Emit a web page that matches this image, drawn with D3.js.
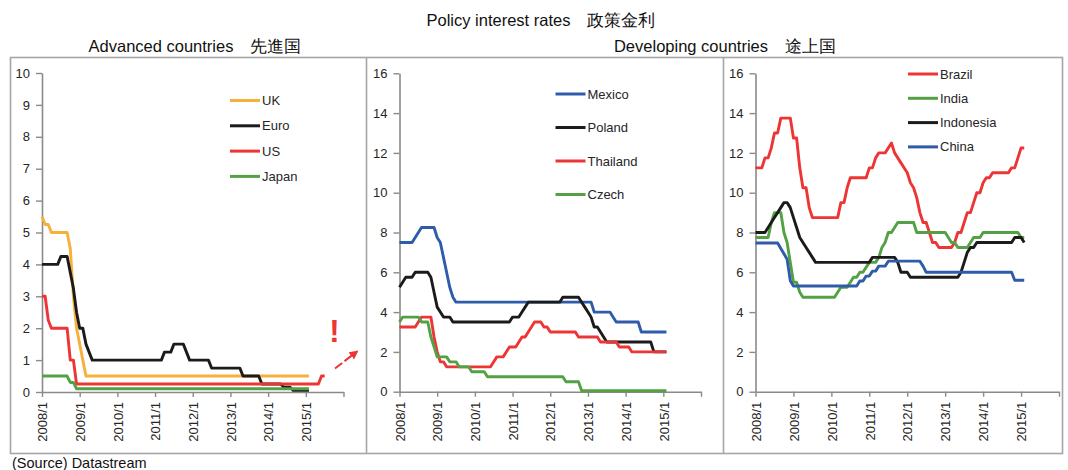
<!DOCTYPE html>
<html><head><meta charset="utf-8">
<script src="https://cdn.jsdelivr.net/npm/d3@7"></script>
<style>
body{margin:0;background:#fff;}
text{font-family:"Liberation Sans",Arial,sans-serif;}
</style></head>
<body>
<svg id="c" width="1068" height="470"></svg>
<script>
// ---------------- DATA (monthly, index 0 = 2008/1) ----------------
const tickLabels = ["2008/1","2009/1","2010/1","2011/1","2012/1","2013/1","2014/1","2015/1",""];

const ukRate = [5.5,5.25,5.25,5.0,5.0,5.0,5.0,5.0,5.0,4.5,3.0,2.0,
  1.5,1.0,0.5,0.5,0.5,0.5,0.5,0.5,0.5,0.5,0.5,0.5,
  0.5,0.5,0.5,0.5,0.5,0.5,0.5,0.5,0.5,0.5,0.5,0.5,
  0.5,0.5,0.5,0.5,0.5,0.5,0.5,0.5,0.5,0.5,0.5,0.5,
  0.5,0.5,0.5,0.5,0.5,0.5,0.5,0.5,0.5,0.5,0.5,0.5,
  0.5,0.5,0.5,0.5,0.5,0.5,0.5,0.5,0.5,0.5,0.5,0.5,
  0.5,0.5,0.5,0.5,0.5,0.5,0.5,0.5,0.5,0.5,0.5,0.5,
  0.5,0.5];
const euroRate = [4.0,4.0,4.0,4.0,4.0,4.0,4.25,4.25,4.25,3.75,3.25,2.5,
  2.0,2.0,1.5,1.25,1.0,1.0,1.0,1.0,1.0,1.0,1.0,1.0,
  1.0,1.0,1.0,1.0,1.0,1.0,1.0,1.0,1.0,1.0,1.0,1.0,
  1.0,1.0,1.0,1.25,1.25,1.25,1.5,1.5,1.5,1.5,1.25,1.0,
  1.0,1.0,1.0,1.0,1.0,1.0,0.75,0.75,0.75,0.75,0.75,0.75,
  0.75,0.75,0.75,0.75,0.5,0.5,0.5,0.5,0.5,0.5,0.25,0.25,
  0.25,0.25,0.25,0.25,0.25,0.15,0.15,0.15,0.05,0.05,0.05,0.05,
  0.05,0.05];
const usRate = [3.0,3.0,2.25,2.0,2.0,2.0,2.0,2.0,2.0,1.0,1.0,0.25,
  0.25,0.25,0.25,0.25,0.25,0.25,0.25,0.25,0.25,0.25,0.25,0.25,
  0.25,0.25,0.25,0.25,0.25,0.25,0.25,0.25,0.25,0.25,0.25,0.25,
  0.25,0.25,0.25,0.25,0.25,0.25,0.25,0.25,0.25,0.25,0.25,0.25,
  0.25,0.25,0.25,0.25,0.25,0.25,0.25,0.25,0.25,0.25,0.25,0.25,
  0.25,0.25,0.25,0.25,0.25,0.25,0.25,0.25,0.25,0.25,0.25,0.25,
  0.25,0.25,0.25,0.25,0.25,0.25,0.25,0.25,0.25,0.25,0.25,0.25,
  0.25,0.25,0.25,0.25,0.25,0.5,0.5];
const japanRate = [0.5,0.5,0.5,0.5,0.5,0.5,0.5,0.5,0.5,0.3,0.3,0.1,
  0.1,0.1,0.1,0.1,0.1,0.1,0.1,0.1,0.1,0.1,0.1,0.1,
  0.1,0.1,0.1,0.1,0.1,0.1,0.1,0.1,0.1,0.1,0.1,0.1,
  0.1,0.1,0.1,0.1,0.1,0.1,0.1,0.1,0.1,0.1,0.1,0.1,
  0.1,0.1,0.1,0.1,0.1,0.1,0.1,0.1,0.1,0.1,0.1,0.1,
  0.1,0.1,0.1,0.1,0.1,0.1,0.1,0.1,0.1,0.1,0.1,0.1,
  0.1,0.1,0.1,0.1,0.1,0.1,0.1,0.1,0.1,0.1,0.1,0.1,
  0.1,0.1];

const mexicoRate = [7.5,7.5,7.5,7.5,7.5,7.75,8.0,8.25,8.25,8.25,8.25,8.25,
  7.75,7.5,6.75,6.0,5.25,4.75,4.5,4.5,4.5,4.5,4.5,4.5,
  4.5,4.5,4.5,4.5,4.5,4.5,4.5,4.5,4.5,4.5,4.5,4.5,
  4.5,4.5,4.5,4.5,4.5,4.5,4.5,4.5,4.5,4.5,4.5,4.5,
  4.5,4.5,4.5,4.5,4.5,4.5,4.5,4.5,4.5,4.5,4.5,4.5,
  4.5,4.5,4.0,4.0,4.0,4.0,4.0,4.0,3.75,3.5,3.5,3.5,
  3.5,3.5,3.5,3.5,3.5,3.0,3.0,3.0,3.0,3.0,3.0,3.0,
  3.0,3.0];
const polandRate = [5.25,5.5,5.75,5.75,5.75,6.0,6.0,6.0,6.0,6.0,5.75,5.0,
  4.25,4.0,3.75,3.75,3.75,3.5,3.5,3.5,3.5,3.5,3.5,3.5,
  3.5,3.5,3.5,3.5,3.5,3.5,3.5,3.5,3.5,3.5,3.5,3.5,
  3.75,3.75,3.75,4.0,4.25,4.5,4.5,4.5,4.5,4.5,4.5,4.5,
  4.5,4.5,4.5,4.5,4.75,4.75,4.75,4.75,4.75,4.75,4.5,4.25,
  4.0,3.75,3.25,3.25,3.0,2.75,2.5,2.5,2.5,2.5,2.5,2.5,
  2.5,2.5,2.5,2.5,2.5,2.5,2.5,2.5,2.5,2.0,2.0,2.0,
  2.0,2.0];
const thailandRate = [3.25,3.25,3.25,3.25,3.25,3.25,3.5,3.75,3.75,3.75,3.75,2.75,
  2.0,1.5,1.5,1.25,1.25,1.25,1.25,1.25,1.25,1.25,1.25,1.25,
  1.25,1.25,1.25,1.25,1.25,1.25,1.5,1.75,1.75,1.75,2.0,2.25,
  2.25,2.25,2.5,2.75,2.75,3.0,3.25,3.5,3.5,3.5,3.25,3.25,
  3.0,3.0,3.0,3.0,3.0,3.0,3.0,3.0,3.0,2.75,2.75,2.75,
  2.75,2.75,2.75,2.75,2.5,2.5,2.5,2.5,2.5,2.5,2.25,2.25,
  2.25,2.25,2.0,2.0,2.0,2.0,2.0,2.0,2.0,2.0,2.0,2.0,
  2.0,2.0];
const czechRate = [3.5,3.75,3.75,3.75,3.75,3.75,3.75,3.5,3.5,3.5,2.75,2.25,
  1.75,1.75,1.75,1.75,1.5,1.5,1.5,1.25,1.25,1.25,1.25,1.0,
  1.0,1.0,1.0,1.0,0.75,0.75,0.75,0.75,0.75,0.75,0.75,0.75,
  0.75,0.75,0.75,0.75,0.75,0.75,0.75,0.75,0.75,0.75,0.75,0.75,
  0.75,0.75,0.75,0.75,0.75,0.5,0.5,0.5,0.5,0.5,0.05,0.05,
  0.05,0.05,0.05,0.05,0.05,0.05,0.05,0.05,0.05,0.05,0.05,0.05,
  0.05,0.05,0.05,0.05,0.05,0.05,0.05,0.05,0.05,0.05,0.05,0.05,
  0.05,0.05];

const brazilRate = [11.25,11.25,11.25,11.75,11.75,12.25,13.0,13.0,13.75,13.75,13.75,13.75,
  12.75,12.75,11.25,10.25,10.25,9.25,8.75,8.75,8.75,8.75,8.75,8.75,
  8.75,8.75,8.75,9.5,9.5,10.25,10.75,10.75,10.75,10.75,10.75,10.75,
  11.25,11.25,11.75,12.0,12.0,12.0,12.25,12.5,12.0,11.75,11.5,11.25,
  11.0,10.5,10.25,9.75,9.0,8.5,8.5,8.0,7.5,7.5,7.25,7.25,
  7.25,7.25,7.25,7.5,8.0,8.0,8.5,9.0,9.0,9.5,10.0,10.0,
  10.5,10.75,10.75,11.0,11.0,11.0,11.0,11.0,11.0,11.25,11.25,11.75,
  12.25,12.25];
const indiaRate = [7.75,7.75,7.75,7.75,7.75,8.5,9.0,9.0,9.0,8.0,7.5,6.5,
  5.5,5.5,5.0,4.75,4.75,4.75,4.75,4.75,4.75,4.75,4.75,4.75,
  4.75,4.75,5.0,5.25,5.25,5.25,5.5,5.75,5.75,6.0,6.0,6.25,
  6.5,6.5,6.5,6.75,7.25,7.5,8.0,8.0,8.25,8.5,8.5,8.5,
  8.5,8.5,8.5,8.0,8.0,8.0,8.0,8.0,8.0,8.0,8.0,8.0,
  8.0,7.75,7.5,7.5,7.25,7.25,7.25,7.25,7.5,7.75,7.75,7.75,
  8.0,8.0,8.0,8.0,8.0,8.0,8.0,8.0,8.0,8.0,8.0,8.0,
  7.75,7.75];
const indonesiaRate = [8.0,8.0,8.0,8.0,8.25,8.5,8.75,9.0,9.25,9.5,9.5,9.25,
  8.75,8.25,7.75,7.5,7.25,7.0,6.75,6.5,6.5,6.5,6.5,6.5,
  6.5,6.5,6.5,6.5,6.5,6.5,6.5,6.5,6.5,6.5,6.5,6.5,
  6.5,6.75,6.75,6.75,6.75,6.75,6.75,6.75,6.75,6.5,6.0,6.0,
  6.0,5.75,5.75,5.75,5.75,5.75,5.75,5.75,5.75,5.75,5.75,5.75,
  5.75,5.75,5.75,5.75,5.75,6.0,6.5,7.0,7.25,7.25,7.5,7.5,
  7.5,7.5,7.5,7.5,7.5,7.5,7.5,7.5,7.5,7.5,7.75,7.75,
  7.75,7.5];
const chinaRate = [7.47,7.47,7.47,7.47,7.47,7.47,7.47,7.47,7.2,6.93,6.66,5.58,
  5.31,5.31,5.31,5.31,5.31,5.31,5.31,5.31,5.31,5.31,5.31,5.31,
  5.31,5.31,5.31,5.31,5.31,5.31,5.31,5.31,5.31,5.56,5.56,5.81,
  5.81,6.06,6.06,6.31,6.31,6.31,6.56,6.56,6.56,6.56,6.56,6.56,
  6.56,6.56,6.56,6.56,6.56,6.31,6.0,6.0,6.0,6.0,6.0,6.0,
  6.0,6.0,6.0,6.0,6.0,6.0,6.0,6.0,6.0,6.0,6.0,6.0,
  6.0,6.0,6.0,6.0,6.0,6.0,6.0,6.0,6.0,6.0,5.6,5.6,
  5.6,5.6];

// ---------------- STYLE ----------------
const C = {orange:"#F6B03C", black:"#1b1b1b", red:"#EE3535", green:"#54A044", blue:"#2E5BAA"};
const svg = d3.select("#c");

// frame
const frameColor = "#a6a6a6";
svg.append("rect").attr("x",10.5).attr("y",57.5).attr("width",1052).attr("height",396)
  .attr("fill","none").attr("stroke",frameColor).attr("stroke-width",1.6);
[366.5, 723.5].forEach(x => svg.append("line").attr("x1",x).attr("x2",x).attr("y1",57.5).attr("y2",453.5)
  .attr("stroke",frameColor).attr("stroke-width",1.6));

// titles
const tf = '"Liberation Sans Narrow","Liberation Sans",Arial,sans-serif';
svg.append("text").attr("x",541).attr("y",26).attr("text-anchor","middle").attr("font-size",16.5)
  .style("font-family",tf).attr("fill","#111").text("Policy interest rates　政策金利");
svg.append("text").attr("x",195).attr("y",52).attr("text-anchor","middle").attr("font-size",16.5)
  .style("font-family",tf).attr("fill","#111").text("Advanced countries　先進国");
svg.append("text").attr("x",725).attr("y",52).attr("text-anchor","middle").attr("font-size",16.5)
  .style("font-family",tf).attr("fill","#111").text("Developing countries　途上国");
svg.append("text").attr("x",12).attr("y",468).attr("font-size",14.5).attr("fill","#111")
  .text("(Source) Datastream");

function panel(opt){
  const x = d3.scaleLinear().domain([0,96]).range([opt.x0, opt.x1]);
  const y = d3.scaleLinear().domain([0,opt.ymax]).range([opt.y0, opt.y1]);
  const g = svg.append("g");
  const ya = g.append("g").attr("transform",`translate(${opt.x0},0)`)
    .call(d3.axisLeft(y).tickValues(d3.range(0,opt.ymax+0.001,opt.step)).tickSize(6).tickSizeOuter(0).tickPadding(6));
  const xa = g.append("g").attr("transform",`translate(0,${opt.y0})`)
    .call(d3.axisBottom(x).tickValues(d3.range(0,97,12)).tickSize(5).tickSizeOuter(0)
      .tickFormat((d,i)=>tickLabels[i]));
  [ya,xa].forEach(a=>{
    a.select(".domain").attr("stroke","#8a8a8a").attr("stroke-width",1.6);
    a.selectAll(".tick line").attr("stroke","#8a8a8a").attr("stroke-width",1.4);
    a.selectAll("text").attr("fill","#262626").attr("font-size",13).style("font-family",'"Liberation Sans",Arial,sans-serif');
  });
  xa.selectAll(".tick text").attr("transform","rotate(-90)").attr("text-anchor","end")
    .attr("x",-10).attr("y",0).attr("dy","0.36em");
  const line = d3.line().x((d,i)=>x(i)).y(d=>y(d));
  opt.series.forEach(s=>{
    g.append("path").datum(s.data).attr("d",line).attr("fill","none")
      .attr("stroke",s.color).attr("stroke-width",2.9).attr("stroke-linejoin","round");
  });
  opt.series.forEach((s,i)=>{
    const ly = opt.ly0 + i*opt.ldy;
    g.append("line").attr("x1",opt.lx).attr("x2",opt.lx+30).attr("y1",ly).attr("y2",ly)
      .attr("stroke",s.color).attr("stroke-width",3);
    g.append("text").attr("x",opt.lx+32).attr("y",ly).attr("dy","0.35em").attr("font-size",13)
      .attr("fill","#262626").text(s.name);
  });
  return {x,y};
}

panel({x0:42,x1:343.5,y0:392,y1:73,ymax:10,step:1,lx:230,ly0:100.5,ldy:25.3,
  series:[{name:"UK",data:ukRate,color:C.orange},{name:"Euro",data:euroRate,color:C.black},
          {name:"US",data:usRate,color:C.red},{name:"Japan",data:japanRate,color:C.green}]});
panel({x0:399.5,x1:701,y0:391.7,y1:73.3,ymax:16,step:2,lx:555.5,ly0:94,ldy:33.5,
  series:[{name:"Mexico",data:mexicoRate,color:C.blue},{name:"Poland",data:polandRate,color:C.black},
          {name:"Thailand",data:thailandRate,color:C.red},{name:"Czech",data:czechRate,color:C.green}]});
panel({x0:755.5,x1:1059,y0:391.7,y1:73.3,ymax:16,step:2,lx:908,ly0:74,ldy:24.3,
  series:[{name:"Brazil",data:brazilRate,color:C.red},{name:"India",data:indiaRate,color:C.green},
          {name:"Indonesia",data:indonesiaRate,color:C.black},{name:"China",data:chinaRate,color:C.blue}]});

// annotation: "!" and dashed arrow
svg.append("defs").append("marker").attr("id","ah").attr("viewBox","0 0 10 10").attr("refX",8).attr("refY",5)
  .attr("markerWidth",4.5).attr("markerHeight",4.5).attr("orient","auto")
  .append("path").attr("d","M0,0L10,5L0,10z").attr("fill",C.red);
svg.append("line").attr("x1",335).attr("y1",368.5).attr("x2",357).attr("y2",351.5)
  .attr("stroke",C.red).attr("stroke-width",2).attr("stroke-dasharray","9,3").attr("marker-end","url(#ah)");
svg.append("text").attr("x",334.5).attr("y",342).attr("text-anchor","middle").attr("font-size",31)
  .attr("font-weight","bold").attr("fill",C.red).text("!");
</script>
</body></html>
